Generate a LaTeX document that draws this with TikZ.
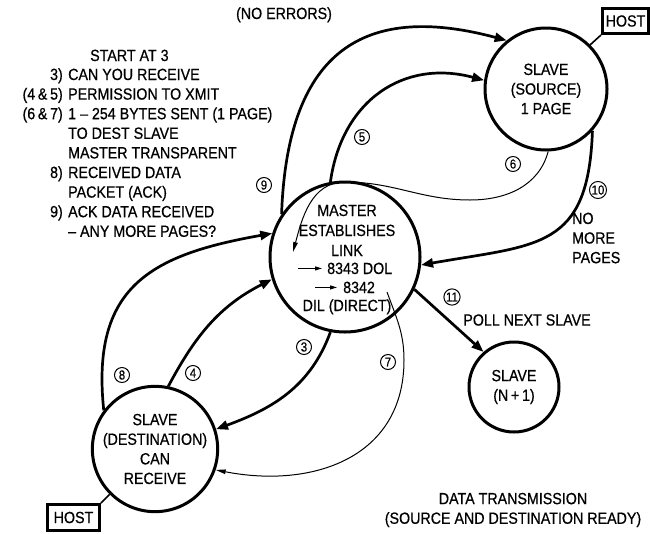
\documentclass[tikz,border=0pt]{standalone}
\usepackage{fontspec}
\setmainfont{Liberation Sans}[FakeStretch=0.88,FakeBold=0.6]
\usetikzlibrary{arrows.meta}
\begin{document}
\begin{tikzpicture}[x=1pt,y=1pt,
  every node/.style={font=\fontsize{16.2}{19.6}\selectfont, inner sep=0pt},
  circ/.style={draw, circle, line width=3pt},
  num/.style={draw, circle, line width=1pt, minimum size=15pt, inner sep=0.5pt, font=\fontsize{13}{13}\selectfont},
  hostbox/.style={draw, line width=3pt},
  conn/.style={line width=2.7pt, -{Triangle[length=12pt,width=9pt]}},
  thinconn/.style={line width=1pt, -{Triangle[length=10pt,width=4.5pt]}},
  smallarrow/.style={line width=1pt, -{Triangle[length=7pt,width=4pt]}},
  hostline/.style={line width=1.6pt}
]
\useasboundingbox (0,0) rectangle (650,-533);

% main circles
\node[circ, minimum size=150pt] (M) at (345,-257) {};
\node[circ, minimum size=122pt, align=center] (S) at (546,-89) {SLAVE\\(SOURCE)\\1 PAGE};
\node[circ, minimum size=124pt, align=center] (D) at (155,-449) {SLAVE\\(DESTINATION)\\CAN\\RECEIVE};
\node[circ, minimum size=90pt, align=center] (N) at (514,-387) {SLAVE\\(N\,+\,1)};

% host boxes
\node[hostbox, minimum width=46pt, minimum height=25pt] (HS) at (625.5,-21) {HOST};
\node[hostbox, minimum width=52pt, minimum height=26pt] (HD) at (73.5,-517.5) {HOST};
\draw[hostline] (HS.south west) -- (S.45);
\draw[hostline] (HD.north east) -- (D.-135);

% master text
\node[anchor=base] (m1) at (347,-216) {MASTER};
\node[anchor=base] (m2) at (347,-236) {ESTABLISHES};
\node[anchor=base] (m3) at (347,-256) {LINK};
\node[anchor=base west] (m4) at (327,-274) {8343 DOL};
\node[anchor=base west] (m5) at (343,-293) {8342};
\node[anchor=base] (m6) at (347,-311) {DIL (DIRECT)};
\draw[smallarrow] ([xshift=-29pt]m4.west) -- ([xshift=-5pt]m4.west);
\draw[smallarrow] ([xshift=-28pt]m5.west) -- ([xshift=-6pt]m5.west);

% connectors
\draw[conn] (M.146) to[out=88,in=165,looseness=1.4] (S.129);   % 9
\draw[conn] (M.101) to[out=82,in=165,looseness=1.15] (S.172);  % 5
\draw[conn] (S.-42) to[out=-92,in=10,looseness=1.4] (M.-6);    % 10
\draw[conn] (M.-101) to[out=-110,in=20] (D.18);                % 3
\draw[conn] (D.78) to[out=62,in=207] (M.197);                  % 4
\draw[conn] (D.143) to[out=96,in=190,looseness=1.3] (M.162);   % 8
\draw[conn] (M.-25) -- (N.131);                                % 11

% thin connectors
\coordinate (c6a) at (470,-200);
\coordinate (c6b) at (345,-182);
\coordinate (c6c) at (293,-252);
\draw[thinconn] (S.-88) to[out=-105,in=0] (c6a) to[out=180,in=0] (c6b) to[out=180,in=75] (c6c);
\coordinate (c7a) at (387,-292);
\coordinate (c7b) at (404,-360);
\draw[thinconn] (c7a) to[out=-70,in=90] (c7b) to[out=-90,in=-11,looseness=1.15] (D.-19);

% circled numbers
\node[num] (n9) at (264,-185) {9};
\node[num] (n5) at (362,-137) {5};
\node[num] (n6) at (513,-164) {6};
\node[num] (n10) at (598,-190) {10};
\node[num] (n3) at (304,-347) {3};
\node[num] (n4) at (193,-373) {4};
\node[num] (n8) at (122,-375) {8};
\node[num] (n7) at (388,-362) {7};
\node[num] (n11) at (452,-297) {11};

% labels
\node[anchor=base] (noerr) at (284,-19) {(NO ERRORS)};
\node[align=left, anchor=west] (nomore) at (572,-238) {NO\\MORE\\PAGES};
\node (poll) at (527,-320) {POLL NEXT SLAVE};
\node[align=center] (title) at (513,-510) {DATA TRANSMISSION\\(SOURCE AND DESTINATION READY)};

% legend
\node[anchor=base west] (t0) at (90,-61) {START AT 3};
\node[anchor=base east] (k1) at (63,-80) {3)};
\node[anchor=base west] (t1) at (68,-80) {CAN YOU RECEIVE};
\node[anchor=base east] (k2) at (63,-99.6) {(4\,\&\,5)};
\node[anchor=base west] (t2) at (68,-99.6) {PERMISSION TO XMIT};
\node[anchor=base east] (k3) at (63,-119.2) {(6\,\&\,7)};
\node[anchor=base west] (t3) at (68,-119.2) {1 – 254 BYTES SENT (1 PAGE)};
\node[anchor=base west] (t4) at (68,-138.8) {TO DEST SLAVE};
\node[anchor=base west] (t5) at (68,-158.4) {MASTER TRANSPARENT};
\node[anchor=base east] (k6) at (63,-178) {8)};
\node[anchor=base west] (t6) at (68,-178) {RECEIVED DATA};
\node[anchor=base west] (t7) at (68,-197.6) {PACKET (ACK)};
\node[anchor=base east] (k8) at (63,-217.2) {9)};
\node[anchor=base west] (t8) at (68,-217.2) {ACK DATA RECEIVED};
\node[anchor=base west] (t9) at (68,-236.8) {– ANY MORE PAGES?};
\end{tikzpicture}
\end{document}
